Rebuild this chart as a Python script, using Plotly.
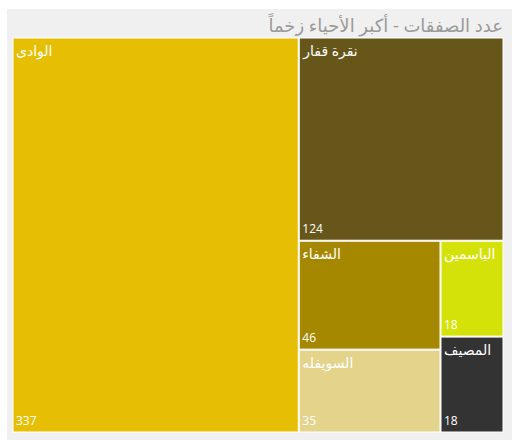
import plotly.graph_objects as go

# Deal counts per district
districts = ["الوادى", "نقرة قفار", "الشفاء", "السويفله", "الياسمين", "المصيف"]
deals = [337, 124, 46, 35, 18, 18]
tile_colors = ["#E6BF05", "#66561A", "#A68800", "#E3D38B", "#D5E20A", "#333333"]
parents = [""] * len(districts)

chart_title = "عدد الصفقات - أكبر الأحياء زخماً"

W, H = 517, 445
M_L, M_R, M_T, M_B = 13, 14, 38, 13
PW, PH = W - M_L - M_R, H - M_T - M_B

font_family = "Open Sans, DejaVu Sans, sans-serif"

fig = go.Figure()

# Main tiles with district names in the top-left corner
fig.add_trace(go.Treemap(
    labels=districts,
    parents=parents,
    values=deals,
    sort=True,
    marker=dict(colors=tile_colors, line=dict(color="white", width=1), pad=dict(t=0, l=0, r=0, b=0)),
    texttemplate="%{label}",
    textposition="top left",
    textfont=dict(family=font_family, size=14, color="white"),
    pathbar=dict(visible=False),
    tiling=dict(packing="squarify", pad=1),
    hovertemplate="%{label}: %{value}<extra></extra>",
))

# Same layout, transparent, carrying the counts in the bottom-left corner
fig.add_trace(go.Treemap(
    labels=districts,
    parents=parents,
    values=deals,
    sort=True,
    marker=dict(colors=["rgba(0,0,0,0)"] * len(districts), line=dict(width=0), pad=dict(t=0, l=0, r=0, b=0)),
    texttemplate="%{value}",
    textposition="bottom left",
    textfont=dict(family=font_family, size=12, color="white"),
    pathbar=dict(visible=False),
    tiling=dict(packing="squarify", pad=1),
    hoverinfo="skip",
))

# Light grey card behind the chart
panel = dict(left=7, right=W - 5, top=9, bottom=H - 5)
fig.add_shape(
    type="rect", xref="paper", yref="paper", layer="below",
    x0=(panel["left"] - M_L) / PW, x1=(panel["right"] - M_L) / PW,
    y0=(H - M_B - panel["bottom"]) / PH, y1=(H - M_B - panel["top"]) / PH,
    fillcolor="#F0F0F0", line=dict(width=0),
)

fig.update_layout(
    width=W, height=H,
    margin=dict(l=M_L, r=M_R, t=M_T, b=M_B),
    paper_bgcolor="white",
    title=dict(
        text=chart_title, x=1, xref="paper", xanchor="right",
        y=1, yref="paper", yanchor="bottom", pad=dict(b=6),
        font=dict(family=font_family, size=18, color="#9A9A9A"),
    ),
    showlegend=False,
)

fig.write_html("out.html")
